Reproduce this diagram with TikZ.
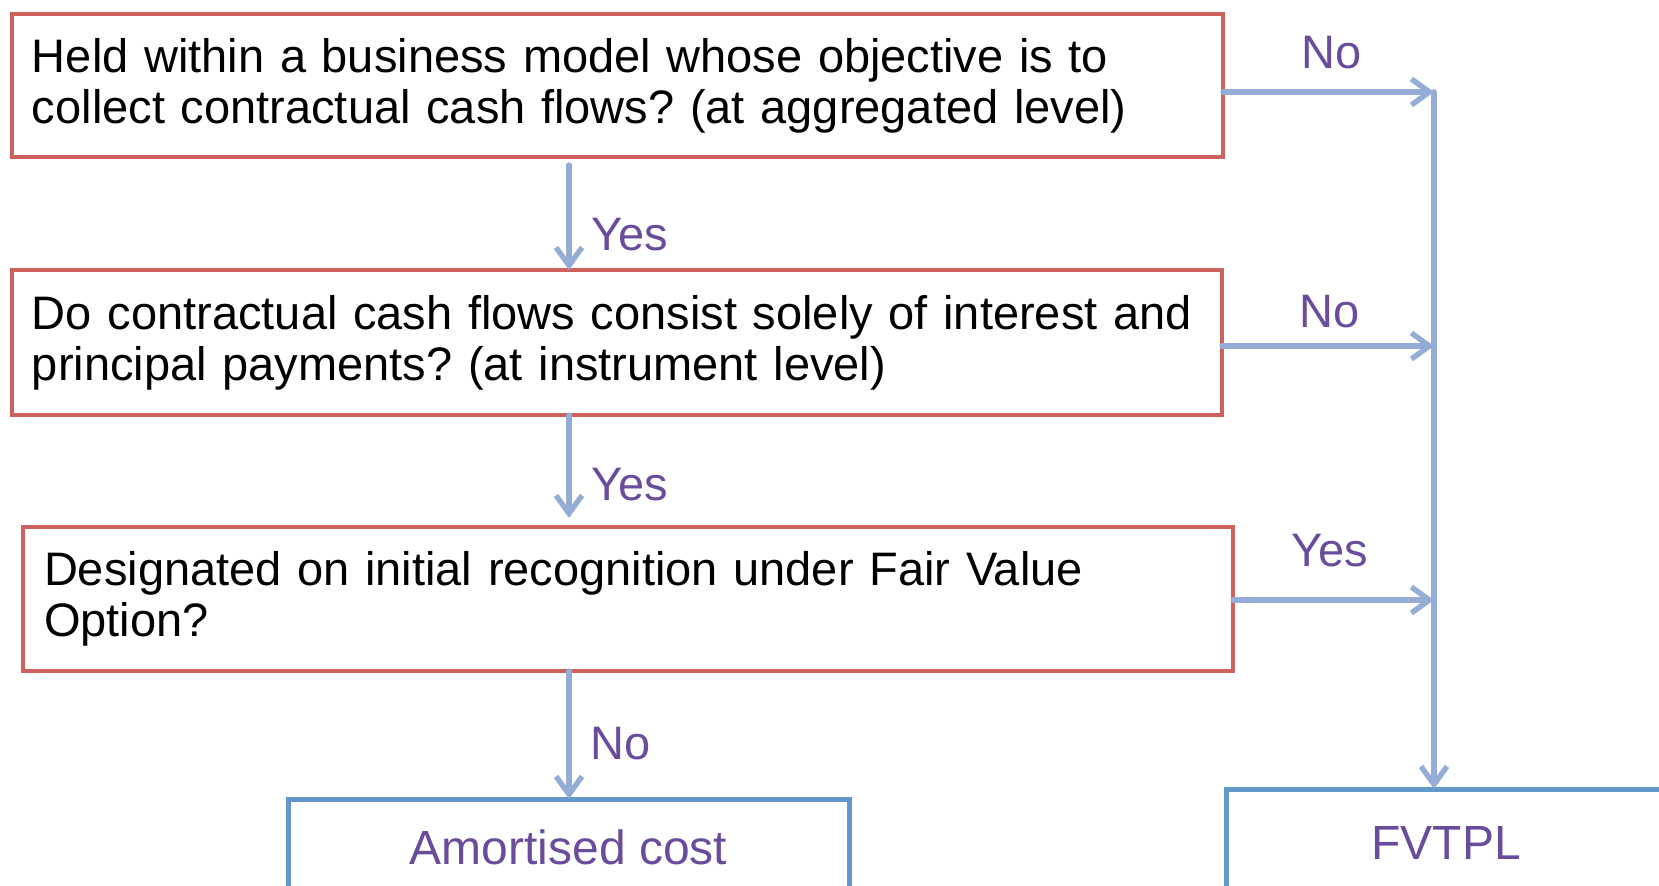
\documentclass[tikz,border=0pt]{standalone}
\usepackage{fontspec}
\setmainfont{Liberation Sans}
\usetikzlibrary{arrows.meta}
\frenchspacing

\definecolor{qred}{RGB}{205,98,92}
\definecolor{flowblue}{RGB}{149,173,214}
\definecolor{endblue}{RGB}{99,152,202}
\definecolor{lblpurple}{RGB}{106,76,156}

\begin{document}
\begin{tikzpicture}[x=0.5pt, y=-0.5pt,
    question/.style={draw=qred, line width=2.2pt, rectangle, outer sep=0pt,
        anchor=north west, align=left, inner xsep=10pt,
        font=\fontsize{23.5}{25.5}\selectfont},
    result/.style={draw=endblue, line width=2.5pt, rectangle, outer sep=0pt,
        anchor=north west, text=lblpurple, font=\fontsize{24}{26}\selectfont},
    flow/.style={draw=flowblue, line width=2.7pt, line cap=round, line join=round,
        -{Straight Barb[length=9pt, width=13pt, line width=2.7pt]}},
    lbl/.style={text=lblpurple, font=\fontsize{23.5}{25.5}\selectfont}]
    \clip (0,0) rectangle (1659,885);

    % Questions
    \node[question, text width=585.5pt, minimum height=71.5pt] (q1) at (12,14)
        {Held within a business model whose objective is to\\collect contractual cash flows? (at aggregated level)};
    \node[question, text width=585pt, minimum height=72.5pt] (q2) at (12,270)
        {Do contractual cash flows consist solely of interest and\\principal payments? (at instrument level)};
    \node[question, text width=584pt, inner xsep=10.5pt, minimum height=72pt] (q3) at (23,527)
        {Designated on initial recognition under Fair Value\\Option?};

    % Outcomes
    \node[result, minimum width=280.5pt, minimum height=48pt] (ac) at (288,799) {Amortised cost};
    \node[result, minimum width=220pt, minimum height=54pt] (fv) at (1226,789) {FVTPL};

    % Junctions on the right-hand line
    \coordinate (col) at (569,0);
    \coordinate (j1) at (1434,92);
    \coordinate (j2) at (1434,346);
    \coordinate (j3) at (1434,600);

    % Yes / No path down the left
    \draw[flow] ([yshift=-4pt]q1.south -| col) -- (q2.north -| col);
    \draw[flow] (q2.south -| col) -- ([yshift=4.5pt]q3.north -| col);
    \draw[flow] (q3.south -| col) -- (ac.north -| col);
    \node[lbl] (y1) at (630,235) {Yes};
    \node[lbl] (y2) at (630,485) {Yes};
    \node[lbl] (n3) at (621,744) {No};

    % Exits to FVTPL
    \draw[flow] (q1.east |- j1) -- (j1);
    \draw[flow] (q2.east |- j2) -- (j2);
    \draw[flow] (q3.east |- j3) -- (j3);
    \draw[flow] (j1) -- (j1 |- fv.north);
    \node[lbl] (n1) at (1332,53) {No};
    \node[lbl] (n2) at (1330,312) {No};
    \node[lbl] (y3) at (1330,551) {Yes};
\end{tikzpicture}
\end{document}
